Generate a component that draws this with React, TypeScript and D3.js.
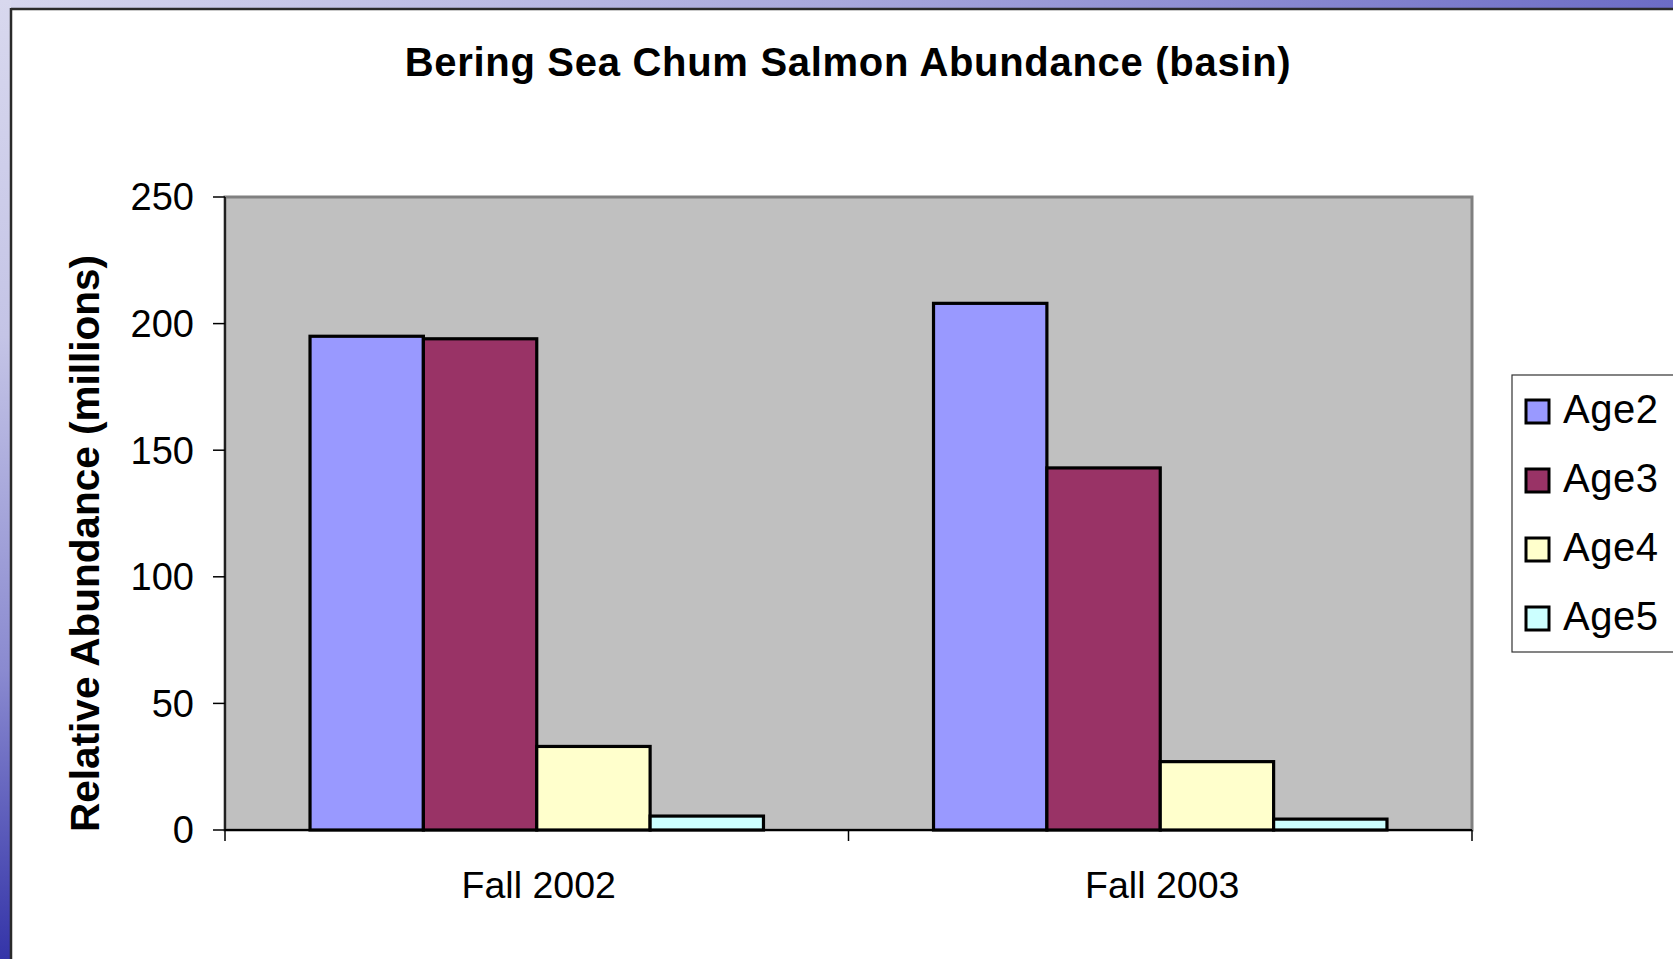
import React from "react";
import * as d3 from "d3";

const categories = ["Fall 2002", "Fall 2003"];
const seriesNames = ["Age2", "Age3", "Age4", "Age5"];
const age2 = [195, 208];
const age3 = [194, 143];
const age4 = [33, 27];
const age5 = [5.5, 4.3];
const seriesValues = [age2, age3, age4, age5];
const seriesColors = ["#9999ff", "#993366", "#ffffcc", "#ccffff"];
const yTicks = [0, 50, 100, 150, 200, 250];
const title = "Bering Sea Chum Salmon Abundance (basin)";
const yTitle = "Relative Abundance (millions)";

const W = 1673;
const H = 959;
const L = 225, R = 1472, T = 197, B = 830;
const FONT = "'Liberation Sans', Arial, sans-serif";

export default function App() {
  const x0 = d3.scaleBand<string>().domain(categories).range([L, R]).padding(0);
  const x1 = d3
    .scaleBand<string>()
    .domain(seriesNames)
    .range([0, x0.bandwidth()])
    .paddingInner(0)
    .paddingOuter(0.75);
  const y = d3.scaleLinear().domain([0, 250]).range([B, T]);

  const catEdges = [L, ...categories.map((c) => (x0(c) as number) + x0.bandwidth())];

  const legendX = 1512, legendY = 375, legendH = 277;
  const legendStep = 69;

  return (
    <svg
      width={W}
      height={H}
      style={{ position: "absolute", left: 0, top: 0, display: "block" }}
      fontFamily={FONT}
    >
      <defs>
        <linearGradient id="topStrip" x1="0" y1="0" x2="1" y2="0">
          <stop offset="0" stopColor="#d6d6ee" />
          <stop offset="0.5" stopColor="#a8a8dc" />
          <stop offset="1" stopColor="#6c6cc6" />
        </linearGradient>
        <linearGradient id="leftStrip" x1="0" y1="0" x2="0" y2="1">
          <stop offset="0" stopColor="#d8d8ee" />
          <stop offset="0.35" stopColor="#c4c4e6" />
          <stop offset="0.7" stopColor="#8a8ad0" />
          <stop offset="1" stopColor="#3434a8" />
        </linearGradient>
      </defs>
      <rect x={0} y={0} width={W} height={H} fill="#ffffff" />
      <rect x={0} y={0} width={W} height={10} fill="url(#topStrip)" />
      <rect x={0} y={0} width={11} height={H} fill="url(#leftStrip)" />
      <line x1={11} y1={9} x2={W} y2={9} stroke="#2a2a2a" strokeWidth={2.5} />
      <line x1={11} y1={8} x2={11} y2={H} stroke="#2a2a2a" strokeWidth={2.5} />

      {/* Title */}
      <text
        x={848}
        y={76}
        textAnchor="middle"
        fontSize={40}
        fontWeight="bold"
        letterSpacing={0.7}
        fill="#000"
      >
        {title}
      </text>

      {/* Plot area */}
      <rect x={L} y={T} width={R - L} height={B - T} fill="#c0c0c0" stroke="#808080" strokeWidth={3} />

      {/* Bars */}
      {categories.map((c, ci) =>
        seriesNames.map((s, si) => {
          const v = seriesValues[si][ci];
          const bx = (x0(c) as number) + (x1(s) as number);
          return (
            <rect
              key={c + s}
              x={bx}
              y={y(v)}
              width={x1.bandwidth()}
              height={B - y(v)}
              fill={seriesColors[si]}
              stroke="#000"
              strokeWidth={3.2}
            />
          );
        })
      )}

      {/* Axes */}
      <line x1={L} y1={T} x2={L} y2={B} stroke="#000" strokeWidth={1.5} />
      <line x1={L} y1={B} x2={R} y2={B} stroke="#000" strokeWidth={2} />
      {yTicks.map((t) => (
        <g key={t}>
          <line x1={L - 12} y1={y(t)} x2={L} y2={y(t)} stroke="#000" strokeWidth={1.5} />
          <text x={194} y={y(t)} dy="0.35em" textAnchor="end" fontSize={38} fill="#000">
            {t}
          </text>
        </g>
      ))}
      {catEdges.map((e, i) => (
        <line key={i} x1={e} y1={B} x2={e} y2={B + 11} stroke="#000" strokeWidth={1.5} />
      ))}
      {categories.map((c) => (
        <text
          key={c}
          x={(x0(c) as number) + x0.bandwidth() / 2 + 2}
          y={898}
          textAnchor="middle"
          fontSize={37.5}
          fill="#000"
        >
          {c}
        </text>
      ))}

      {/* Y axis title */}
      <text
        transform={`translate(99, ${(T + B) / 2 + 30}) rotate(-90)`}
        textAnchor="middle"
        fontSize={40.5}
        fontWeight="bold"
        fill="#000"
      >
        {yTitle}
      </text>

      {/* Legend */}
      <rect x={legendX} y={legendY} width={W - legendX + 5} height={legendH} fill="#fff" stroke="#333" strokeWidth={1.2} />
      {seriesNames.map((s, i) => {
        const cy = 411 + i * legendStep;
        return (
          <g key={s}>
            <rect x={1526} y={cy - 11} width={23} height={23} fill={seriesColors[i]} stroke="#000" strokeWidth={3} />
            <text x={1563} y={cy + 12} fontSize={40} letterSpacing={0.5} fill="#000">
              {s}
            </text>
          </g>
        );
      })}
    </svg>
  );
}
